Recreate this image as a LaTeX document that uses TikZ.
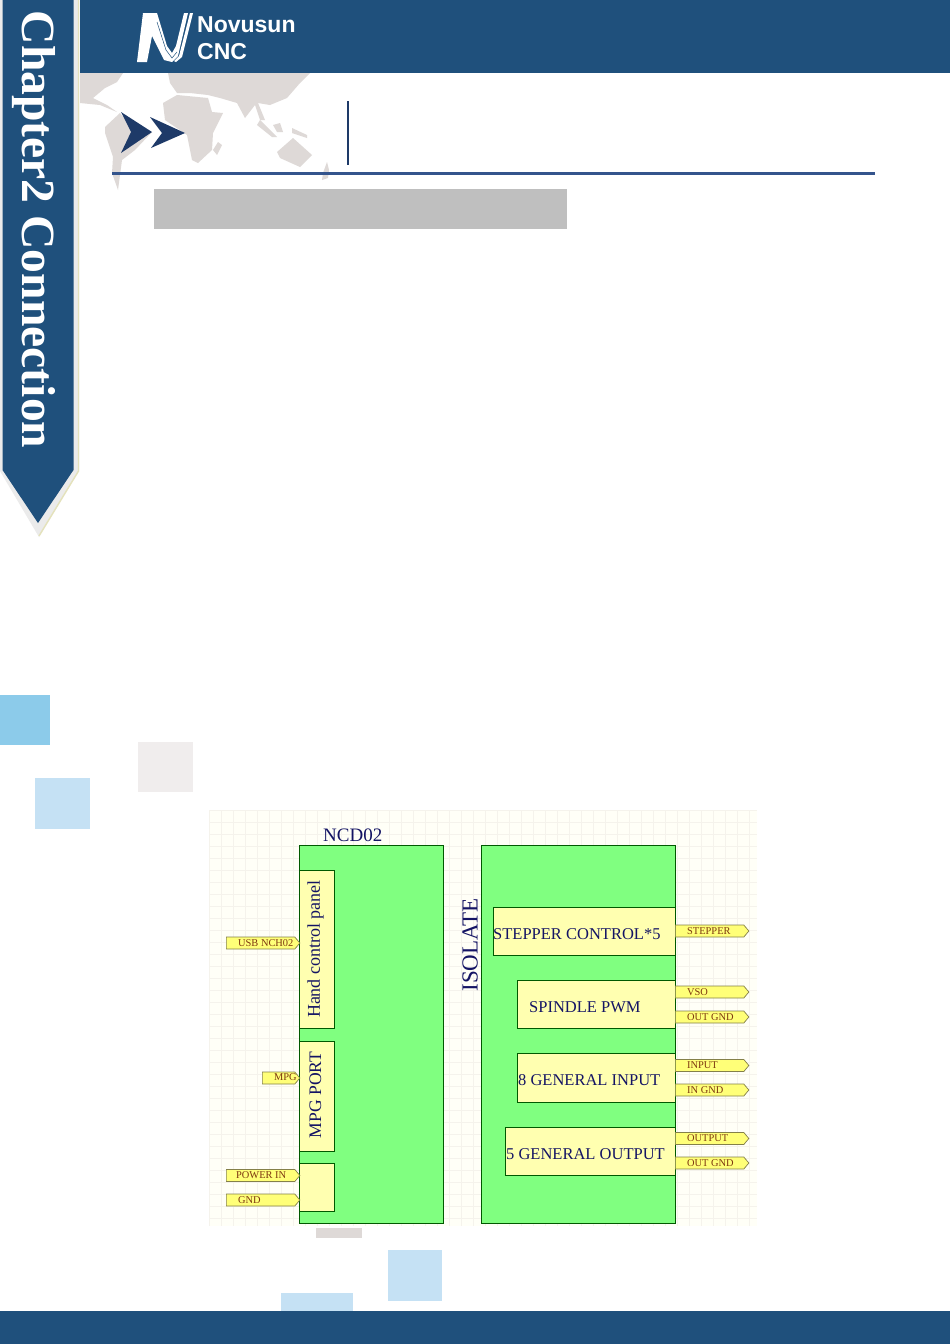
\documentclass[tikz,border=0pt]{standalone}
\usepackage{fontspec}
\setmainfont{Liberation Serif}
\newfontfamily\logofont{Liberation Sans}
\usetikzlibrary{shapes.symbols,positioning}
\definecolor{bannerblue}{RGB}{31,80,124}
\definecolor{rulenavy}{RGB}{52,84,140}
\definecolor{arrownavy}{RGB}{30,58,104}
\definecolor{mapgrey}{RGB}{222,217,215}
\definecolor{boxgreen}{RGB}{128,255,128}
\definecolor{boxyellow}{RGB}{255,255,176}
\definecolor{portyellow}{RGB}{255,255,120}
\definecolor{navytext}{RGB}{20,20,100}
\definecolor{porttext}{RGB}{125,55,15}
\definecolor{squareblue}{RGB}{140,203,234}
\definecolor{squarepale}{RGB}{197,225,244}
\definecolor{squaregrey}{RGB}{240,237,237}
\definecolor{gridtint}{RGB}{245,243,236}
\tikzset{
  x=1pt,y=-1pt,
  bigbox/.style={draw=black!65!green,fill=boxgreen,line width=0.7pt},
  subbox/.style={draw=black!65!green,fill=boxyellow,line width=0.7pt},
  boxlabel/.style={text=navytext,font=\fontsize{16.5}{18}\selectfont,inner sep=0pt},
  portbox/.style={signal,signal to=east,signal pointer angle=100,draw=black!55!yellow,fill=portyellow,
    line width=0.7pt,anchor=west,minimum height=12pt,minimum width=73.5pt,inner xsep=0pt,inner ysep=0pt},
  portlabel/.style={text=porttext,font=\fontsize{10.4}{11}\selectfont,inner sep=0pt,anchor=west},
  mapland/.style={fill=mapgrey,draw=none},
}
\begin{document}
\begin{tikzpicture}
  \useasboundingbox (0,0) rectangle (950,1344);
  \fill[white] (0,0) rectangle (950,1344);

  % world map behind the title
  \fill[mapland] (80,73) -- (123,73) -- (117,82) -- (105,88) -- (93,98) -- (107,105) -- (117,112) -- (100,105) -- (80,103) -- cycle;
  \fill[mapland] (105,127) -- (120,113) -- (130,125) -- (152,132) -- (135,150) -- (122,160) -- (118,190) -- (112,173) -- (113,157) -- (105,133) -- cycle;
  \fill[mapland] (168,73) -- (310,73) -- (300,83) -- (287,98) -- (270,105) -- (258,103) -- (265,120) -- (260,120) -- (255,105) -- (245,118) -- (237,103) -- (220,98) -- (208,95) -- (190,93) -- (177,93) -- (170,83) -- cycle;
  \fill[mapland] (163,103) -- (177,95) -- (208,98) -- (212,112) -- (223,113) -- (213,133) -- (212,150) -- (198,163) -- (192,160) -- (187,135) -- (165,120) -- cycle;
  \fill[mapland] (277,152) -- (293,138) -- (312,155) -- (300,167) -- (280,158) -- cycle;
  \fill[mapland] (260,120) -- (277,137) -- (272,137) -- (257,125) -- cycle;
  \fill[mapland] (273,125) -- (280,123) -- (283,132) -- (277,132) -- cycle;
  \fill[mapland] (292,128) -- (307,135) -- (307,138) -- (292,133) -- cycle;
  \fill[mapland] (213,150) -- (218,142) -- (222,145) -- (217,155) -- cycle;
  \fill[mapland] (327,162) -- (329,170) -- (328,178) -- (322,180) -- (323,173) -- cycle;

  % header and side banner
  \fill[bannerblue] (80,0) rectangle (950,73);
  \fill[black!8] (0,0) -- (79,0) -- (79,471) -- (39,537) -- (0,471) -- cycle;
  \draw[black!40!yellow!30!white,line width=1.4pt] (78.5,0) -- (78.5,471) -- (39,536);
  \fill[bannerblue] (2.5,0) -- (73.5,0) -- (73.5,470) -- (38,523) -- (2.5,470) -- cycle;
  \node[rotate=-90,text=white,font=\fontsize{47.6}{50}\selectfont\bfseries,inner sep=0pt] (chapter) at (34,229.5) {Chapter2 Connection};

  % logo
  \fill[white] (137,62) -- (143,13) -- (157,13) -- (167,46) -- (172,53) -- (176,46) -- (184,13) -- (188,13) -- (178,56) -- (172,62) -- (164,60) -- (152,36) -- (147,62) -- cycle;
  \fill[white] (190,13) -- (193,13) -- (182,57) -- (176,62) -- (174,61) -- (179,56) -- cycle;
  \draw[bannerblue,line width=0.5pt] (157,22) -- (166,50) -- (172,58) -- (177,52);
  \node[text=white,font=\logofont\bfseries\fontsize{23}{24}\selectfont,inner sep=0pt,anchor=west] (novusun) at (197,25) {Novusun};
  \node[text=white,font=\logofont\bfseries\fontsize{23}{24}\selectfont,inner sep=0pt,anchor=west] (cnc) at (197,52) {CNC};

  % title rules and arrows
  \fill[arrownavy] (121,112) -- (152,132) -- (121,153) -- (131,132) -- cycle;
  \fill[arrownavy] (150,117) -- (185,133) -- (151,148) -- (162,133) -- cycle;
  \draw[arrownavy,line width=1.8pt] (348,101) -- (348,165);
  \draw[rulenavy,line width=2.2pt] (112,173.5) -- (875,173.5);
  \fill[black!25] (154,189) rectangle (567,229);

  % loose squares
  \fill[squareblue] (0,695) rectangle (50,745);
  \fill[squarepale] (35,778) rectangle (90,829);
  \fill[squaregrey] (138,742) rectangle (193,792);
  \fill[mapgrey] (316,1228) rectangle (362,1238);
  \fill[squarepale] (388,1250) rectangle (442,1301);
  \fill[squarepale] (281,1293) rectangle (353,1311);
  \fill[bannerblue] (0,1311) rectangle (950,1344);

  % schematic sheet grid
  \fill[white!97!yellow] (209,810) rectangle (757,1226);
  \foreach \gx in {209,221,...,757} \draw[gridtint,line width=0.5pt] (\gx,810) -- (\gx,1226);
  \foreach \gy in {810,822,...,1226} \draw[gridtint,line width=0.5pt] (209,\gy) -- (757,\gy);

  % main boards
  \draw[bigbox] (299,845.5) rectangle (443,1223);
  \draw[bigbox] (481,845.5) rectangle (675,1223);
  \node[boxlabel,anchor=west,font=\fontsize{19}{20}\selectfont] (ncd) at (323,835) {NCD02};
  \node[boxlabel,rotate=90,font=\fontsize{23}{24}\selectfont] (isolate) at (470,945) {ISOLATE};

  % blocks on the left board
  \draw[subbox] (299,870) rectangle (334.7,1028);
  \draw[subbox] (299,1041) rectangle (334.7,1151);
  \draw[subbox] (299,1163) rectangle (334.7,1211);
  \node[boxlabel,rotate=90,font=\fontsize{18}{20}\selectfont] (hand) at (315.5,949) {Hand control panel};
  \node[boxlabel,rotate=90,font=\fontsize{17.6}{20}\selectfont] (mpgport) at (315.5,1095) {MPG PORT};

  % blocks on the right board
  \draw[subbox] (493,907) rectangle (675,955);
  \draw[subbox] (517,980) rectangle (675,1028);
  \draw[subbox] (517,1053) rectangle (675,1102);
  \draw[subbox] (505,1127) rectangle (675,1175);
  \node[boxlabel,anchor=west] (stepper) at (493,934) {STEPPER CONTROL*5};
  \node[boxlabel,anchor=west] (spindle) at (529,1007.5) {SPINDLE PWM};
  \node[boxlabel,anchor=west] (general) at (518,1080.5) {8 GENERAL INPUT};
  \node[boxlabel,anchor=west] (generalout) at (506,1154) {5 GENERAL OUTPUT};

  % ports, left side
  \node[portbox] (pusb) at (226,943) {};
  \node[portbox,minimum width=37.5pt] (pmpg) at (262,1078) {};
  \node[portbox] (ppower) at (226,1175.5) {};
  \node[portbox] (pgnd) at (226,1200) {};
  \node[portlabel] (lusb) at (238,943) {USB NCH02};
  \node[portlabel] (lmpg) at (274,1077.5) {MPG};
  \node[portlabel] (lpower) at (236,1175.5) {POWER IN};
  \node[portlabel] (lgnd) at (238,1200) {GND};

  % ports, right side
  \foreach \pname/\py/\ptext in {pstep/931/STEPPER,pvso/992/VSO,pgnda/1017/OUT GND,pin/1065.5/INPUT,pingnd/1090/IN GND,pout/1138.5/OUTPUT,pgndb/1163/OUT GND}{
    \node[portbox] (\pname) at (675,\py) {};
    \node[portlabel] (\pname text) at (687,\py) {\ptext};
  }
\end{tikzpicture}
\end{document}
